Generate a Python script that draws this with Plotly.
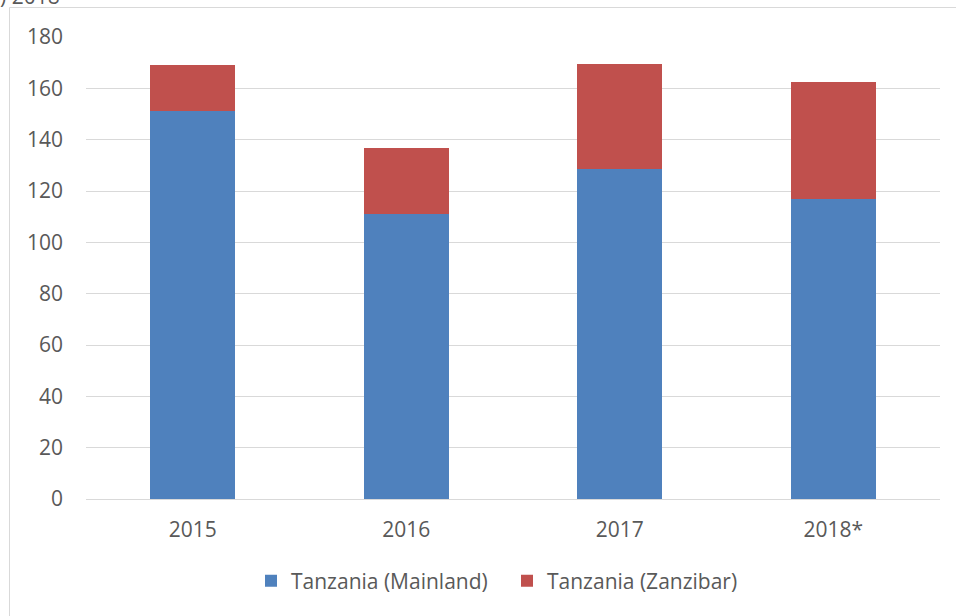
import plotly.graph_objects as go

years = ["2015", "2016", "2017", "2018*"]
mainland = [151.1, 111.0, 128.6, 117.0]
zanzibar = [17.8, 25.7, 41.0, 45.3]
y_ticks = [0, 20, 40, 60, 80, 100, 120, 140, 160, 180]

FONT = "Open Sans"
FS = 21
W, H = 956, 616
L, R, T, B = 86, 16, 37, 117
pw, ph = W - L - R, H - T - B

fig = go.Figure()
fig.add_trace(go.Bar(x=years, y=mainland, name="Tanzania (Mainland)",
                     marker=dict(color="#4f81bd", line=dict(width=0)), width=0.4))
fig.add_trace(go.Bar(x=years, y=zanzibar, name="Tanzania (Zanzibar)",
                     marker=dict(color="#c0504d", line=dict(width=0)), width=0.4))

def px2paper_x(p):
    return (p - L) / pw

def px2paper_y(p):
    return (H - B - p) / ph

fig.update_layout(
    width=W, height=H,
    barmode="stack",
    plot_bgcolor="white", paper_bgcolor="white",
    margin=dict(l=L, r=R, t=T, b=B),
    font=dict(family=FONT, size=FS, color="#595959"),
    xaxis=dict(showgrid=False, showline=True, linecolor="#d9d9d9", linewidth=1,
               ticks="", ticklabelstandoff=12, tickfont=dict(size=FS, color="#595959")),
    yaxis=dict(range=[0, 180], tickvals=y_ticks, showgrid=True, gridcolor="#d9d9d9",
               gridwidth=1, zeroline=False, showline=False, ticks="",
               ticklabelstandoff=22, tickfont=dict(size=FS, color="#595959")),
    legend=dict(orientation="h", x=px2paper_x(507), xanchor="center", y=px2paper_y(581), yanchor="middle",
                font=dict(size=FS, color="#595959"), traceorder="normal", itemwidth=30,
                entrywidth=211),
    showlegend=True,
    shapes=[dict(type="rect", xref="paper", yref="paper",
                 x0=px2paper_x(9.5), x1=px2paper_x(1000), y0=px2paper_y(660), y1=px2paper_y(7.5),
                 line=dict(color="#d9d9d9", width=1), fillcolor="rgba(0,0,0,0)", layer="below")],
    annotations=[dict(text=") 2018", xref="paper", yref="paper", x=px2paper_x(-2), xanchor="left",
                      y=px2paper_y(12), yanchor="bottom", showarrow=False,
                      font=dict(size=FS, color="#595959"))],
)

fig.write_html("out.html", config={"displayModeBar": False},
               post_script="document.body.style.margin='0';document.body.style.overflow='hidden';")
